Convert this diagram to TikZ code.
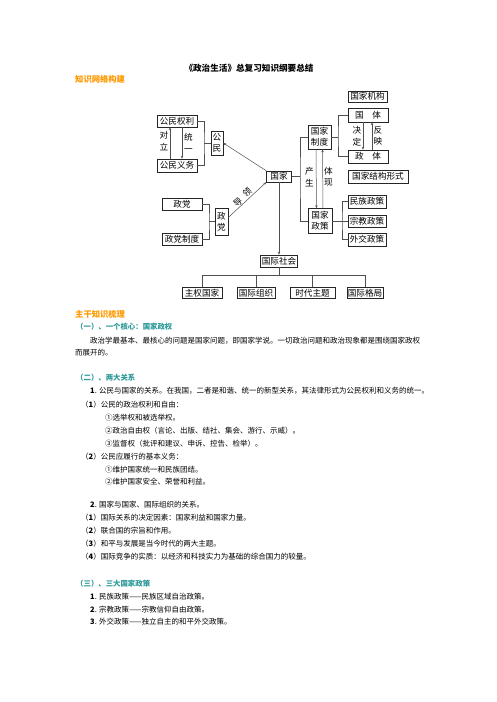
\documentclass[tikz,border=0pt]{standalone}
\usepackage{fontspec}
\setmainfont{Noto Sans CJK SC}
\usepackage{tikz}
\usetikzlibrary{positioning, arrows.meta}
\definecolor{headorange}{HTML}{FF9900}
\definecolor{headteal}{HTML}{2E9A9A}
\definecolor{linegray}{HTML}{505050}

\tikzset{
  box/.style={draw=black!85, line width=0.5pt, inner sep=0pt, font=\fontsize{8.6}{10}\selectfont},
  vbox/.style={box, align=center, font=\fontsize{8.6}{11}\selectfont},
  link/.style={draw=linegray, line width=0.5pt},
  arr/.style={link, -{Stealth[length=3pt, width=2.4pt]}},
  lbl/.style={inner sep=0pt, align=center, font=\fontsize{8.6}{11.5}\selectfont},
  body/.style={anchor=west, inner sep=0pt, font=\fontsize{7.5}{9}\selectfont},
  orangehead/.style={anchor=west, inner sep=0pt, text=headorange, font=\bfseries\fontsize{8.3}{10}\selectfont},
  tealhead/.style={anchor=west, inner sep=0pt, text=headteal, font=\bfseries\fontsize{7.4}{9}\selectfont}
}

\begin{document}
\begin{tikzpicture}[x=1pt, y=-1pt]
\useasboundingbox[fill=white] (0,0) rectangle (496,702);

\node[inner sep=0pt, font=\bfseries\fontsize{8.6}{10}\selectfont] (title) at (249,68) {《政治生活》总复习知识纲要总结};
\node[orangehead] (netHead) at (75,79) {知识网络构建};

% citizen side
\node[box, minimum width=40pt, minimum height=12pt] (quanli) at (177,121) {公民权利};
\node[box, minimum width=40pt, minimum height=13pt] (yiwu) at (177,165.5) {公民义务};
\node[vbox, minimum width=12pt, minimum height=24pt] (gongmin) at (217,143) {公\\民};
\coordinate (b1) at (204,143);
\draw[link] (quanli.east) -| (b1) |- (yiwu.east);
\draw[link] (b1) -- (gongmin.west);
\draw[arr] ([xshift=-7pt]yiwu.north) -- ([xshift=-7pt]quanli.south);
\draw[arr] ([xshift=5pt]quanli.south) -- ([xshift=5pt]yiwu.north);
\node[lbl] (duili) at (164,141) {对\\立};
\node[lbl] (tongyi) at (188.5,143) {统\\一};

% state
\node[box, minimum width=25pt, minimum height=11pt] (guojia) at (279,176.5) {国家};
\draw[arr] (guojia.north west) -- (gongmin.east);

% party side
\node[box, minimum width=40pt, minimum height=12pt] (zhengdang) at (182,204) {政党};
\node[box, minimum width=40pt, minimum height=12pt] (dangzhi) at (182,239) {政党制度};
\node[vbox, minimum width=13pt, minimum height=27pt] (dang) at (221.5,221.5) {政\\党};
\coordinate (b2) at (209,221.5);
\draw[link] (zhengdang.east) -| (b2) |- (dangzhi.east);
\draw[link] (b2) -- (dang.west);
\draw[arr] ([yshift=4pt]dang.east) -- (guojia.south west);
\node[lbl, rotate=40] (ling) at (247,192) {领};
\node[lbl, rotate=40] (dao) at (238,202) {导};

% system and policy
\node[vbox, minimum width=23pt, minimum height=24pt] (zhidu) at (319.5,137) {国家\\制度};
\node[vbox, minimum width=24pt, minimum height=25pt] (zhengce) at (320,221) {国家\\政策};
\coordinate (b3) at (300,176.5);
\draw[link] (guojia.east) -- (b3);
\draw[link] (zhidu.west) -| (b3) |- (zhengce.west);
\draw[arr] ([xshift=-3.5pt]zhidu.south) -- ([xshift=-3.5pt]zhengce.north);
\draw[arr] ([xshift=3pt]zhengce.north) -- ([xshift=3pt]zhidu.south);
\node[lbl] (chansheng) at (309.5,177) {产\\生};
\node[lbl] (tixian) at (328.5,177) {体\\现};

% state form
\node[box, minimum width=39pt, minimum height=11pt] (jigou) at (367.5,96.5) {国家机构};
\node[box, minimum width=40pt, minimum height=14pt] (guoti) at (368,115) {国　体};
\node[box, minimum width=40pt, minimum height=13pt] (zhengti) at (368,156.5) {政　体};
\node[box, minimum width=60pt, minimum height=13pt] (jiegou) at (378,176.5) {国家结构形式};
\coordinate (b4) at (338,137);
\draw[link] (zhidu.east) -- (b4);
\draw[link] (guoti.west) -| (b4) |- (zhengti.west);
\draw[arr] ([xshift=-5pt]guoti.south) -- ([xshift=-5pt]zhengti.north);
\draw[arr] ([xshift=4pt]zhengti.north) -- ([xshift=4pt]guoti.south);
\node[lbl] (jueding) at (357,136) {决\\定};
\node[lbl] (fanying) at (378,136) {反\\映};

% three policies
\node[box, minimum width=38pt, minimum height=13pt] (minzu) at (367,201.5) {民族政策};
\node[box, minimum width=38pt, minimum height=12pt] (zongjiao) at (367,221) {宗教政策};
\node[box, minimum width=38pt, minimum height=13pt] (waijiao) at (367,239.5) {外交政策};
\coordinate (b5) at (342,221);
\draw[link] (zhengce.east) -- (zongjiao.west);
\draw[link] (minzu.west) -| (b5) |- (waijiao.west);

% international society
\node[box, minimum width=37pt, minimum height=12pt] (shehui) at (279,261) {国际社会};
\draw[arr] (guojia.south) -- (shehui.north);
\node[box, minimum width=40pt, minimum height=11pt] (zhuquan) at (202,293) {主权国家};
\node[box, minimum width=38pt, minimum height=11pt] (zuzhi) at (256,293) {国际组织};
\node[box, minimum width=45pt, minimum height=11pt] (zhuti) at (312.5,293) {时代主题};
\node[box, minimum width=36pt, minimum height=11pt] (geju) at (365,293) {国际格局};
\coordinate (b6) at (279,275);
\draw[link] (shehui.south) -- (b6);
\draw[link] (zhuquan.north) |- (geju.north |- b6) -- (geju.north);
\draw[link] (zuzhi.north) -- (zuzhi.north |- b6);
\draw[link] (zhuti.north) -- (zhuti.north |- b6);

% outline text
\node[orangehead] (mainHead) at (75,314) {主干知识梳理};
\node[tealhead] (h1) at (76,327) {（一）、一个核心：国家政权};
\node[body] (p1) at (90,341) {政治学最基本、最核心的问题是国家问题，即国家学说。一切政治问题和政治现象都是围绕国家政权};
\node[body] (p1b) at (75,353) {而展开的。};

\node[tealhead] (h2) at (76,378) {（二）、两大关系};
\node[body] (r1) at (90,391) {{\bfseries 1}. 公民与国家的关系。在我国，二者是和谐、统一的新型关系，其法律形式为公民权利和义务的统一。};
\node[body] (r1a) at (81,405) {（{\bfseries 1}）公民的政治权利和自由：};
\node[body] (r1a1) at (105,418) {①选举权和被选举权。};
\node[body] (r1a2) at (105,431) {②政治自由权（言论、出版、结社、集会、游行、示威）。};
\node[body] (r1a3) at (105,444) {③监督权（批评和建议、申诉、控告、检举）。};
\node[body] (r1b) at (81,457) {（{\bfseries 2}）公民应履行的基本义务：};
\node[body] (r1b1) at (105,470) {①维护国家统一和民族团结。};
\node[body] (r1b2) at (105,482) {②维护国家安全、荣誉和利益。};

\node[body] (r2) at (90,505) {{\bfseries 2}. 国家与国家、国际组织的关系。};
\node[body] (r2a) at (81,518) {（{\bfseries 1}）国际关系的决定因素：国家利益和国家力量。};
\node[body] (r2b) at (81,531) {（{\bfseries 2}）联合国的宗旨和作用。};
\node[body] (r2c) at (81,544) {（{\bfseries 3}）和平与发展是当今时代的两大主题。};
\node[body] (r2d) at (81,557) {（{\bfseries 4}）国际竞争的实质：以经济和科技实力为基础的综合国力的较量。};

\node[tealhead] (h3) at (76,584) {（三）、三大国家政策};
\node[body] (s1) at (90,597) {{\bfseries 1}. 民族政策——民族区域自治政策。};
\node[body] (s2) at (90,610) {{\bfseries 2}. 宗教政策——宗教信仰自由政策。};
\node[body] (s3) at (90,622) {{\bfseries 3}. 外交政策——独立自主的和平外交政策。};
\end{tikzpicture}
\end{document}
